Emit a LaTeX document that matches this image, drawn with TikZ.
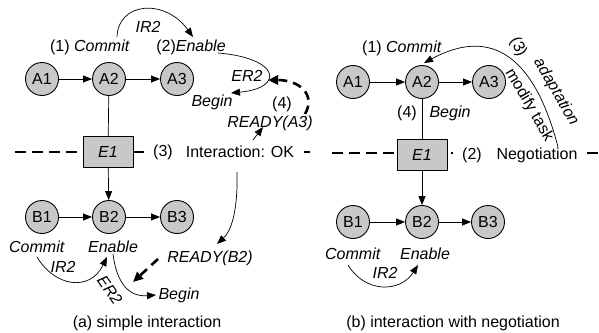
\documentclass[tikz,border=0pt]{standalone}
\usepackage{fontspec}
\setmainfont{Liberation Sans}
\usetikzlibrary{arrows.meta}
\definecolor{nodegray}{RGB}{200,200,200}
\begin{document}
\begin{tikzpicture}[x=1pt,y=-1pt,
  font=\fontsize{16}{19}\selectfont,
  st/.style={circle,draw=black,line width=0.9pt,fill=nodegray,minimum size=33pt,inner sep=0pt},
  ebox/.style={draw=black,line width=0.9pt,fill=nodegray,minimum width=50pt,minimum height=31pt,inner sep=0pt},
  lbl/.style={inner sep=1pt},
  wl/.style={inner ysep=2pt,inner xsep=9pt,fill=white},
  arr/.style={line width=0.7pt,-{Triangle[length=9pt,width=7pt]}},
  thin/.style={line width=0.7pt},
  thickdash/.style={line width=2.6pt,dash pattern=on 9pt off 6pt,-{Triangle[length=10pt,width=9pt]}},
  sepline/.style={line width=2.6pt,dash pattern=on 11pt off 6pt}]
\useasboundingbox (0,0) rectangle (599,332);
% ---------- left panel ----------
\coordinate (dlA) at (15,152);
\coordinate (dlB) at (310,152);
\draw[sepline] (dlA) -- (dlB);
\node[st] (a1) at (42,79) {A1};
\node[st] (a2) at (109,79) {A2};
\node[st] (a3) at (177,79) {A3};
\node[ebox] (e1) at (108,152) {\textit{E1}};
\node[st] (b1) at (42,217) {B1};
\node[st] (b2) at (109,217) {B2};
\node[st] (b3) at (177,217) {B3};
\draw[arr] (a1) -- (a2);
\draw[arr] (a2) -- (a3);
\draw[arr] (b1) -- (b2);
\draw[arr] (b2) -- (b3);
\draw[thin] (a2) -- (e1);
\draw[arr] (e1) -- (b2);
\node[lbl] (c1) at (90,47) {(1) \textit{Commit}};
\node[lbl] (en) at (191,47) {(2)\textit{Enable}};
\node[lbl] (ir2) at (148,27) {\textit{IR2}};
\node[lbl] (er2) at (247,76) {\textit{ER2}};
\node[lbl] (bg) at (212,102) {\textit{Begin}};
\node[lbl] (n4) at (282,104) {(4)};
\node[lbl] (rdy) at (270,123) {\textit{READY(A3)}};
\node[wl] (n3) at (163,152) {(3)};
\node[wl] (iok) at (240,152) {Interaction: OK};
\coordinate (ir2s) at (117,37);
\coordinate (ir2e) at (193,37);
\draw[arr] (ir2s) .. controls (118,2) and (165,-2) .. (ir2e);
\coordinate (er2s) at (218,53);
\coordinate (er2e) at (231,93);
\draw[arr] (er2s) .. controls (280,58) and (285,88) .. (er2e);
\coordinate (tds) at (305,114);
\coordinate (tde) at (268,80);
\draw[thickdash] (tds) .. controls (316,95) and (300,80) .. (tde);
\coordinate (rs) at (253,140);
\coordinate (re) at (263,127);
\draw[arr] (rs) -- (re);
% B row labels
\node[lbl] (bc) at (37,247) {\textit{Commit}};
\node[lbl] (be) at (113,247) {\textit{Enable}};
\node[lbl] (bir2) at (63,267) {\textit{IR2}};
\node[lbl,rotate=-55] (ber2) at (110,290) {\textit{ER2}};
\node[lbl] (bbg) at (179,295) {\textit{Begin}};
\node[lbl] (rdyb) at (210,258) {\textit{READY(B2)}};
\coordinate (bis) at (37,257);
\coordinate (bie) at (107,257);
\draw[arr] (bis) .. controls (55,287) and (90,292) .. (bie);
\coordinate (bes) at (113,254);
\coordinate (bee) at (156,295);
\draw[arr] (bes) .. controls (117,285) and (130,297) .. (bee);
\coordinate (ios) at (237,172);
\coordinate (ioe) at (217,244);
\draw[arr] (ios) .. controls (238,215) and (230,232) .. (ioe);
\coordinate (tbs) at (158,259);
\coordinate (tbe) at (133,282);
\draw[thickdash] (tbs) -- (tbe);
\node (capa) at (147,323) {(a) simple interaction};
% ---------- right panel ----------
\coordinate (drA) at (332,153);
\coordinate (drB) at (599,153);
\draw[sepline] (drA) -- (drB);
\node[st] (ra1) at (353,82) {A1};
\node[st] (ra2) at (422,82) {A2};
\node[st] (ra3) at (489,82) {A3};
\node[ebox] (re1) at (422,155) {\textit{E1}};
\node[st] (rb1) at (353,222) {B1};
\node[st] (rb2) at (422,222) {B2};
\node[st] (rb3) at (488,222) {B3};
\draw[arr] (ra1) -- (ra2);
\draw[arr] (ra2) -- (ra3);
\draw[arr] (rb1) -- (rb2);
\draw[arr] (rb2) -- (rb3);
\draw[thin] (ra2) -- (re1);
\draw[arr] (re1) -- (rb2);
\node[lbl] (rc1) at (402,48) {(1) \textit{Commit}};
\node[lbl] (r4) at (407,113) {(4)};
\node[lbl] (rbg) at (450,113) {\textit{Begin}};
\node[wl] (r2) at (472,155) {(2)};
\node[wl] (neg) at (537,155) {Negotiation};
\coordinate (ads) at (558,147);
\coordinate (ade) at (424,63);
\draw[arr] (ads) .. controls (538,70) and (500,22) .. (ade);
\node[lbl,rotate=-62] (r3) at (518,47) {(3)};
\node[lbl,rotate=-60] (adp) at (556,92) {\textit{adaptation}};
\node[lbl,rotate=-60] (mod) at (529,105) {modify task};
\node[lbl] (rbc) at (353,254) {\textit{Commit}};
\node[lbl] (rbe) at (425,254) {\textit{Enable}};
\node[lbl] (rbir) at (385,273) {\textit{IR2}};
\coordinate (ris) at (348,265);
\coordinate (rie) at (418,265);
\draw[arr] (ris) .. controls (365,293) and (400,293) .. (rie);
\node (capb) at (453,323) {(b) interaction with negotiation};
\end{tikzpicture}
\end{document}
